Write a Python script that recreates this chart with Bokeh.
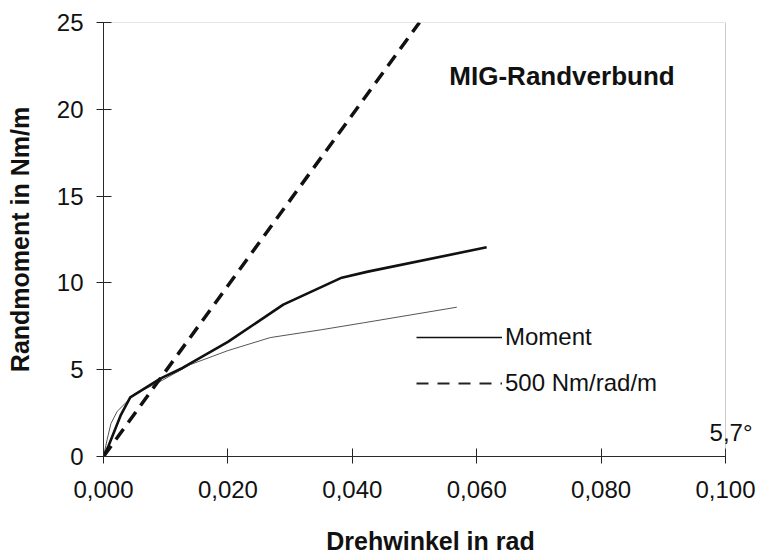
from bokeh.plotting import figure
from bokeh.models import FixedTicker, Range1d, Legend, LegendItem, Label, BoxAnnotation
from bokeh.embed import file_html
from bokeh.resources import INLINE

# ---- data ----
moment_x = [0.0, 0.0008, 0.0028, 0.0043, 0.0092, 0.0127, 0.0200, 0.0289, 0.0383, 0.0425, 0.0616]
moment_y = [0.0, 0.6, 2.4, 3.4, 4.5, 5.1, 6.6, 8.75, 10.3, 10.65, 12.05]

thin_x = [0.0, 0.0006, 0.0012, 0.0022, 0.0050, 0.0090, 0.0140, 0.0200, 0.0268, 0.0350, 0.0418, 0.0568]
thin_y = [0.0, 1.0, 1.9, 2.6, 3.6, 4.3, 5.3, 6.1, 6.85, 7.3, 7.7, 8.6]

ref_x = [0.0, 0.0508]
ref_y = [0.0, 25.0]

x_ticks = [0.0, 0.02, 0.04, 0.06, 0.08, 0.10]
x_tick_labels = ["0,000", "0,020", "0,040", "0,060", "0,080", "0,100"]
y_ticks = [0, 5, 10, 15, 20, 25]
y_tick_labels = ["0", "5", "10", "15", "20", "25"]

series_names = ["Moment", "500 Nm/rad/m"]
title_text = "MIG-Randverbund"
angle_text = "5,7°"

X_MAX = 0.1
Y_MAX = 25
FONT = "Liberation Sans"
NAN = float("nan")

# the frame is widened a little past 0.1 so that the "5,7°" note (which sits
# over the right frame edge in the reference) is not clipped
p = figure(width=761, height=558, output_backend="svg", toolbar_location=None,
           x_range=Range1d(0, X_MAX * 1.0514), y_range=Range1d(0, Y_MAX),
           min_border_left=103, min_border_right=4, min_border_top=22, min_border_bottom=102)
p.background_fill_color = "white"
p.border_fill_color = "white"
p.outline_line_color = None
p.xgrid.visible = False
p.ygrid.visible = False

# visible plot box 0..0.1 x 0..25
p.add_layout(BoxAnnotation(left=0, right=X_MAX, bottom=0, top=Y_MAX,
                           fill_alpha=0, line_color="#555555", line_width=1))

for ax, ticks, labels in ((p.xaxis[0], x_ticks, x_tick_labels), (p.yaxis[0], y_ticks, y_tick_labels)):
    ax.ticker = FixedTicker(ticks=ticks)
    ax.major_label_overrides = {t: l for t, l in zip(ticks, labels)}
    ax.minor_tick_line_color = None
    ax.major_tick_in = 8
    ax.major_tick_out = 7
    ax.axis_line_color = "#222222"
    ax.major_tick_line_color = "#222222"
    ax.major_label_text_font = FONT
    ax.major_label_text_font_size = "24px"
    ax.major_label_text_color = "#111111"
    ax.axis_label_text_font = FONT
    ax.axis_label_text_font_size = "25px"
    ax.axis_label_text_font_style = "bold"
    ax.axis_label_text_color = "#111111"

p.xaxis.bounds = (0, X_MAX)
p.xaxis.axis_label = "Drehwinkel in rad"
p.yaxis.axis_label = "Randmoment in Nm/m"
p.xaxis.major_label_standoff = 17
p.yaxis.major_label_standoff = 13
p.xaxis.axis_label_standoff = 26
p.yaxis.axis_label_standoff = 20

r_thin = p.line(thin_x, thin_y, line_color="#555555", line_width=1)
r_mom = p.line(moment_x, moment_y, line_color="#111111", line_width=2.6)
r_ref = p.line(ref_x, ref_y, line_color="#111111", line_width=3.5, line_dash="13 8")

# legend samples drawn thinner, as in the reference (renderers with no visible data)
leg_mom = p.line([NAN], [NAN], line_color="#111111", line_width=1.6)
leg_ref = p.line([NAN], [NAN], line_color="#222222", line_width=1.8, line_dash="12 9")

legend = Legend(items=[LegendItem(label=series_names[0], renderers=[leg_mom]),
                       LegendItem(label=series_names[1], renderers=[leg_ref])],
                location=(313, 58), padding=0, margin=0,
                glyph_width=86, glyph_height=30, label_height=30, spacing=16,
                label_standoff=3, border_line_alpha=0, background_fill_alpha=0,
                label_text_font=FONT, label_text_font_size="24px", label_text_color="#111111")
p.add_layout(legend)

p.add_layout(Label(x=0.0556, y=21.9, text=title_text, text_font=FONT,
                   text_font_size="26px", text_font_style="bold", text_color="#111111",
                   text_baseline="middle", text_align="left"))
p.add_layout(Label(x=X_MAX, y=1.38, x_offset=-16, text=angle_text, text_font=FONT,
                   text_font_size="24px", text_color="#111111",
                   text_baseline="middle", text_align="left"))

open("out.html", "w").write(file_html(p, INLINE))
